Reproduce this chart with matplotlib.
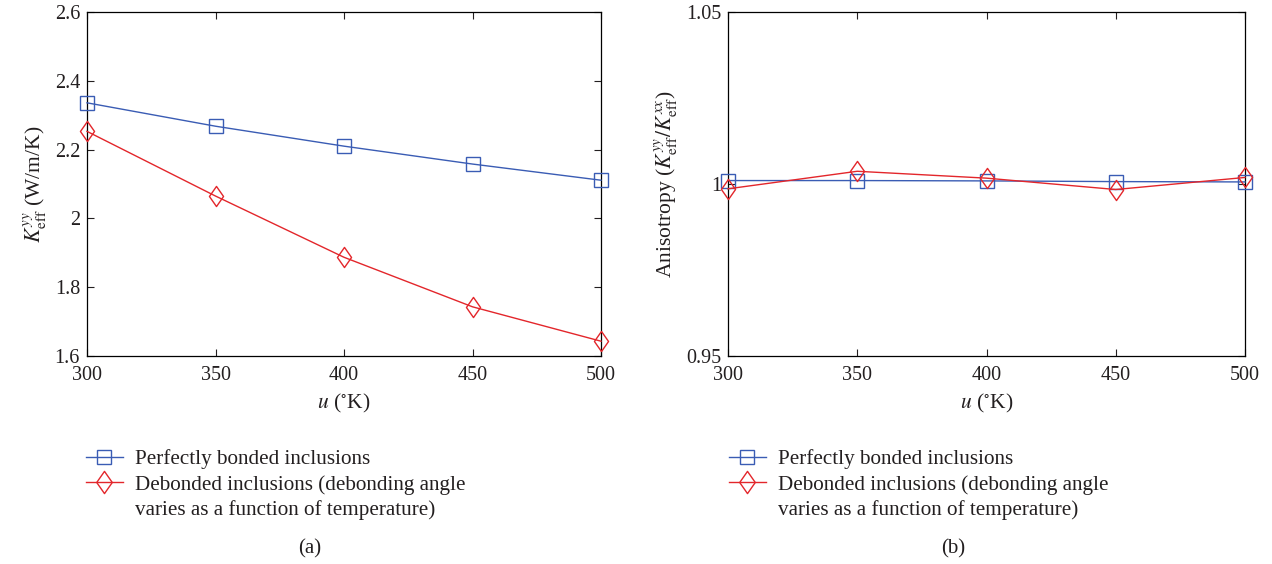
import numpy as np
import matplotlib
matplotlib.use("Agg")
import matplotlib.pyplot as plt
from matplotlib.lines import Line2D
from matplotlib.path import Path

plt.rcParams['font.family'] = ['Liberation Serif', 'DejaVu Serif']
plt.rcParams['mathtext.fontset'] = 'stix'
plt.rcParams['font.size'] = 14
plt.rcParams['text.color'] = '#231f20'
plt.rcParams['axes.labelcolor'] = '#231f20'
plt.rcParams['xtick.color'] = '#231f20'
plt.rcParams['ytick.color'] = '#231f20'

# data
temperature = [300, 350, 400, 450, 500]
k_bonded = [2.336, 2.268, 2.210, 2.158, 2.111]
k_debonded = [2.253, 2.065, 1.887, 1.743, 1.643]
aniso_bonded = [1.0010, 1.0010, 1.0009, 1.0007, 1.0006]
aniso_debonded = [0.9986, 1.0037, 1.0017, 0.9984, 1.0019]

blue = '#3a5cb4'
red = '#e3262b'
label_bonded = 'Perfectly bonded inclusions'
label_debonded_1 = 'Debonded inclusions (debonding angle'
label_debonded_2 = 'varies as a function of temperature)'

# diamond a bit wider than matplotlib's 'd'
diamond = Path([(0, 1), (0.7, 0), (0, -1), (-0.7, 0), (0, 1)],
               [Path.MOVETO, Path.LINETO, Path.LINETO, Path.LINETO, Path.CLOSEPOLY])
sq_ms = 10
dia_ms = 14.5

fig = plt.figure(figsize=(12.72, 5.64), dpi=100)
ax1 = fig.add_axes([87 / 1272, 1 - 356 / 564, 514 / 1272, 344 / 564])
ax2 = fig.add_axes([728 / 1272, 1 - 356 / 564, 517 / 1272, 344 / 564])


def draw(ax, yb, yd):
    ax.plot(temperature, yb, color=blue, lw=1.0, marker='s', ms=sq_ms,
            mfc='none', mec=blue, mew=1.0, clip_on=False, zorder=3)
    ax.plot(temperature, yd, color=red, lw=1.0, marker=diamond, ms=dia_ms,
            mfc='none', mec=red, mew=1.0, clip_on=False, zorder=3)
    ax.set_xlim(300, 500)
    ax.set_xticks([300, 350, 400, 450, 500])
    ax.tick_params(direction='in', top=True, right=True, length=5, width=0.8,
                   labelsize=14.5, pad=7)
    for s in ax.spines.values():
        s.set_linewidth(0.9)
    ax.set_xlabel('$u$ ($^{\\circ}$K)', fontsize=15.5, labelpad=5)


draw(ax1, k_bonded, k_debonded)
ax1.set_ylim(1.6, 2.6)
ax1.set_yticks([1.6, 1.8, 2.0, 2.2, 2.4, 2.6])
ax1.set_yticklabels(['1.6', '1.8', '2', '2.2', '2.4', '2.6'])
ax1.tick_params(axis='y', pad=5)
ax1.set_ylabel('$K_{\\rm eff}^{yy}$ (W/m/K)', fontsize=15.5, labelpad=4)

draw(ax2, aniso_bonded, aniso_debonded)
ax2.set_ylim(0.95, 1.05)
ax2.set_yticks([0.95, 1.0, 1.05])
ax2.set_yticklabels(['0.95', '1', '1.05'])
ax2.tick_params(axis='y', pad=5)
ax2.set_ylabel('Anisotropy ($K_{\\rm eff}^{yy}/K_{\\rm eff}^{xx}$)', fontsize=15.5, labelpad=4)

handles = [
    Line2D([], [], color=blue, lw=1.0, marker='s', ms=sq_ms, mfc='none', mec=blue),
    Line2D([], [], color=red, lw=1.0, marker=diamond, ms=dia_ms + 1.5, mfc='none', mec=red),
    Line2D([], [], color='none'),
]
labels = [label_bonded, label_debonded_1, label_debonded_2]

for x0 in (86 / 1272, 729 / 1272):
    fig.legend(handles, labels, loc='upper left', bbox_to_anchor=(x0, 1 - 449 / 564),
               frameon=False, fontsize=15.2, handlelength=1.75, handletextpad=0.55,
               labelspacing=0.28, borderpad=0, borderaxespad=0)

fig.text(310 / 1272, 1 - 549 / 564, '(a)', ha='center', va='center', fontsize=15)
fig.text(953 / 1272, 1 - 549 / 564, '(b)', ha='center', va='center', fontsize=15)

fig.savefig('out.png', dpi=100)
